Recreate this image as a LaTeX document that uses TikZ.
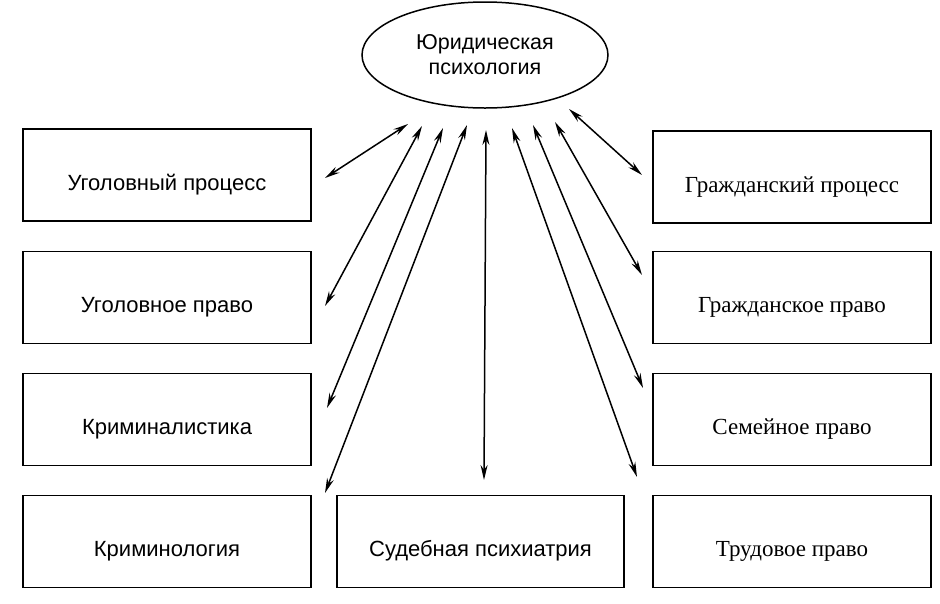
\documentclass[tikz,border=0pt]{standalone}
\usepackage{fontspec}
\setmainfont{Liberation Sans}
\newfontfamily\serifcyr{Liberation Serif}
\usetikzlibrary{shapes.geometric}
\usetikzlibrary{arrows.meta}

\tikzset{
	block/.style={draw, line width=1.6pt, minimum height=92pt, inner sep=0pt,
		text height=30pt, text depth=0pt, font=\fontsize{22}{26}\selectfont},
	leftblock/.style={block, minimum width=288pt},
	rightblock/.style={block, minimum width=278pt, font=\serifcyr\fontsize{23}{26}\selectfont},
	link/.style={line width=1.5pt, {Stealth[length=15pt,width=7pt]}-{Stealth[length=15pt,width=7pt]}}
}

\begin{document}
\begin{tikzpicture}[x=1pt, y=-1pt]
		\useasboundingbox (0,0) rectangle (940,603);
		
		\node[draw, ellipse, line width=1.5pt, minimum width=246pt, minimum height=106pt,
			inner sep=0pt, align=center, font=\fontsize{21.5}{25}\selectfont] (jp) at (485,55) {Юридическая\\психология};
		
		\node[leftblock] (upr) at (167,175) {Уголовный процесс};
		\node[leftblock] (upv) at (167,297.5) {Уголовное право};
		\node[leftblock] (krs) at (167,419.5) {Криминалистика};
		\node[leftblock] (krl) at (167,541.5) {Криминология};
		
		\node[block, minimum width=287pt] (sp) at (480.5,541.5) {Судебная психиатрия};
		
		\node[rightblock] (gpr) at (792,177) {Гражданский процесс};
		\node[rightblock] (gpv) at (792,297.5) {Гражданское право};
		\node[rightblock] (sem) at (792,419.5) {Семейное право};
		\node[rightblock] (trd) at (792,541.5) {Трудовое право};
		
		\coordinate (t1) at (408,124); \coordinate (b1) at (325,178);
		\coordinate (t2) at (422,126); \coordinate (b2) at (325,306);
		\coordinate (t3) at (443,128); \coordinate (b3) at (327,408);
		\coordinate (t4) at (467,125); \coordinate (b4) at (325,493);
		\coordinate (t5) at (486,130); \coordinate (b5) at (484,480);
		\coordinate (t6) at (512,128); \coordinate (b6) at (637,477);
		\coordinate (t7) at (533,125); \coordinate (b7) at (643,388);
		\coordinate (t8) at (555,122); \coordinate (b8) at (642,275);
		\coordinate (t9) at (569,109); \coordinate (b9) at (642,175);
		
		\draw[link] (t1) -- (b1);
		\draw[link] (t2) -- (b2);
		\draw[link] (t3) -- (b3);
		\draw[link] (t4) -- (b4);
		\draw[link] (t5) -- (b5);
		\draw[link] (t6) -- (b6);
		\draw[link] (t7) -- (b7);
		\draw[link] (t8) -- (b8);
		\draw[link] (t9) -- (b9);
	\end{tikzpicture}
\end{document}
